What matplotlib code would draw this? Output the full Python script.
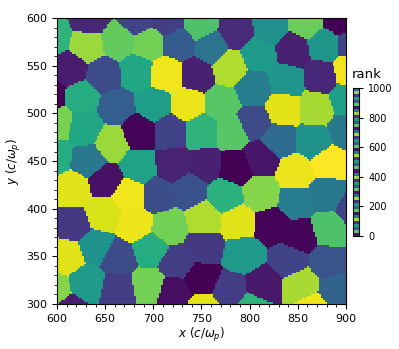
import numpy as np
import matplotlib
matplotlib.use("Agg")
import matplotlib.pyplot as plt
from matplotlib.colors import ListedColormap, Normalize
from matplotlib.ticker import MultipleLocator

# cell seeds (x, y in c/omega_p) and their rank
seed_x = [597, 633, 631, 664, 683, 695, 726, 715, 748, 760, 786, 821, 859, 893,
          809, 845, 878, 907,
          614, 648, 683, 714, 745, 779, 804, 838, 874, 904,
          591, 626, 662, 700, 735, 771, 835, 869, 900, 804,
          600, 629, 685, 657, 717, 750, 781, 831, 866, 900,
          633, 598, 685, 721, 754, 785, 812, 847, 883,
          616, 650, 674, 705, 738, 774, 812, 848, 881, 907,
          616, 648, 681, 717, 752, 788, 823, 852, 883,
          610, 640, 664, 697, 724, 752, 793, 842, 881,
          597, 631, 664, 695, 721, 750, 779, 814, 855, 888,
          752, 804, 866, 612]
seed_y = [581, 598, 571, 576, 598, 574, 574, 597, 593, 569, 586, 591, 595, 598,
          562, 567, 572, 572,
          547, 540, 543, 541, 540, 548, 526, 534, 538, 545,
          519, 517, 507, 509, 510, 510, 505, 505, 515, 491,
          490, 484, 481, 469, 481, 481, 481, 472, 471, 483,
          450, 455, 445, 446, 446, 443, 453, 438, 448,
          421, 429, 414, 414, 419, 414, 415, 407, 415, 400,
          384, 395, 383, 381, 390, 386, 384, 371, 379,
          350, 360, 348, 357, 343, 360, 352, 346, 343,
          313, 322, 315, 320, 312, 326, 314, 319, 320, 314,
          293, 295, 295, 293]
rank = [650, 110, 850, 760, 200, 790, 290, 180, 720, 380, 120, 500, 770, 0,
        550, 90, 530, 200,
        80, 230, 600, 980, 90, 880, 420, 520, 110, 980,
        0, 620, 300, 560, 970, 740, 960, 870, 570, 230,
        800, 600, 10, 850, 200, 650, 740, 350, 510, 400,
        400, 620, 580, 100, 90, 0, 60, 970, 1000,
        950, 50, 980, 240, 250, 640, 820, 420, 400, 200,
        170, 940, 975, 790, 880, 950, 10, 15, 720,
        950, 510, 230, 620, 180, 170, 540, 200, 260,
        820, 550, 180, 790, 40, 0, 180, 70, 870, 320,
        960, 650, 980, 80]

seed_x = np.array(seed_x, float)
seed_y = np.array(seed_y, float)
rank = np.array(rank, float)

# nearest-seed map on a 2-unit grid
gx = np.arange(601, 900, 2.0)
gy = np.arange(301, 600, 2.0)
X, Y = np.meshgrid(gx, gy)
d2 = (X[..., None] - seed_x) ** 2 + (Y[..., None] - seed_y) ** 2
img = rank[np.argmin(d2, axis=-1)]

fig = plt.figure(figsize=(3.99, 3.49), dpi=100)
ax = fig.add_axes([0.143, 0.129, 0.724, 0.819])
ax.imshow(img, origin="lower", extent=[600, 900, 300, 600], cmap="viridis",
          vmin=0, vmax=1000, interpolation="nearest", aspect="auto")
ax.set_xlim(600, 900)
ax.set_ylim(300, 600)
ax.xaxis.set_major_locator(MultipleLocator(50))
ax.yaxis.set_major_locator(MultipleLocator(50))
ax.xaxis.set_minor_locator(MultipleLocator(10))
ax.yaxis.set_minor_locator(MultipleLocator(10))
ax.tick_params(labelsize=8, length=3.5, width=0.8)
ax.tick_params(which="minor", length=2, width=0.6)
ax.set_xlabel(r"$x\ (c/\omega_p)$", fontsize=8.5, labelpad=2)
ax.set_ylabel(r"$y\ (c/\omega_p)$", fontsize=8.5, labelpad=2)

# striped colorbar
vir = plt.get_cmap("viridis")
stripe = [vir(0.05), vir(0.75), vir(0.3), vir(0.55), vir(0.15), vir(0.85), vir(0.4)]
stripe_cmap = ListedColormap(stripe * 7)
cax = fig.add_axes([0.885, 0.324, 0.015, 0.424])
sm = plt.cm.ScalarMappable(norm=Normalize(0, 1000), cmap=stripe_cmap)
cb = fig.colorbar(sm, cax=cax)
cb.set_ticks([0, 200, 400, 600, 800, 1000])
cb.ax.tick_params(labelsize=7, length=3, width=0.8)
cb.outline.set_linewidth(0.8)
cax.text(-0.3, 1.05, "rank", transform=cax.transAxes, ha="left", va="bottom",
         fontsize=9.5)

fig.savefig("out.png", dpi=100)
